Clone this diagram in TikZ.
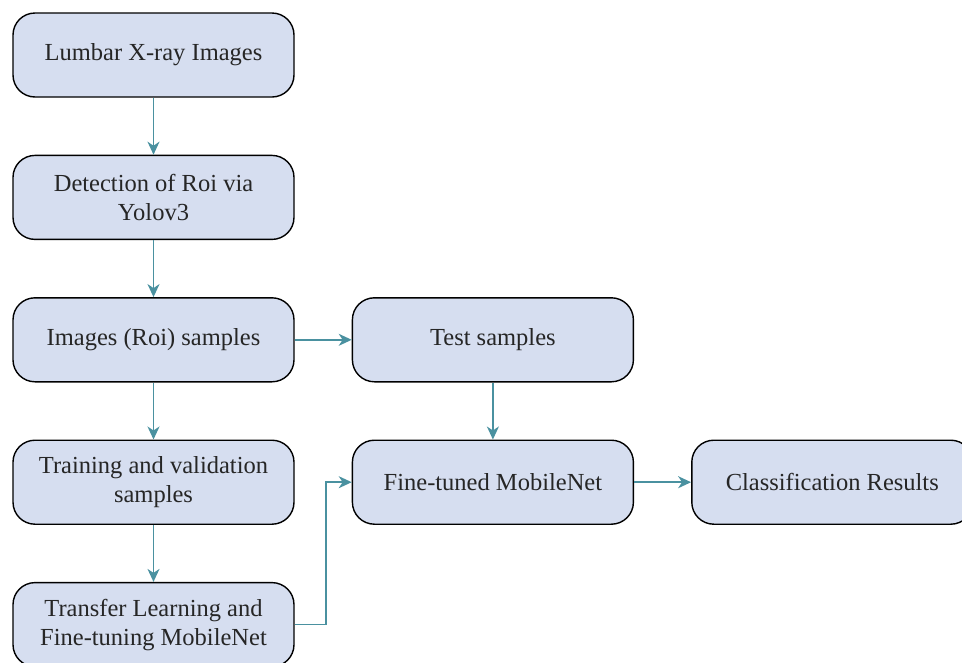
\documentclass[tikz,border=0pt]{standalone}
\usepackage{fontspec}
\setmainfont{Liberation Serif}
\usetikzlibrary{positioning,arrows,arrows.meta}

\definecolor{boxfill}{RGB}{214,222,240}
\definecolor{linkcol}{RGB}{74,145,160}

\begin{document}
\begin{tikzpicture}[node distance=57pt,
		box/.style={draw=black, line width=1.4pt, fill=boxfill, rounded corners=22pt,
			minimum width=281pt, minimum height=84pt, inner sep=2pt, align=center,
			font=\fontsize{24.5}{29}\selectfont, text=black!85},
		link/.style={draw=linkcol, line width=1.6pt, -{Stealth[length=13pt,width=12pt,inset=4pt]}}]
	\useasboundingbox (0,0) rectangle (962pt,-662pt);

	\node (lumbar)   [box] at (153.5pt,-55pt)   {Lumbar X-ray Images};
	\node (detect)   [box, below=of lumbar]   {Detection of Roi via\\Yolov3};
	\node (roi)      [box, below=of detect]   {Images (Roi) samples};
	\node (train)    [box, below=of roi]      {Training and validation\\samples};
	\node (transfer) [box, below=of train]    {Transfer Learning and\\Fine-tuning MobileNet};

	\node (test)     [box, right=of roi]      {Test samples};
	\node (finetune) [box, right=of train]    {Fine-tuned MobileNet};
	\node (result)   [box, right=of finetune] {Classification Results};

	\draw[link] (lumbar) -- (detect);
	\draw[link] (detect) -- (roi);
	\draw[link] (roi) -- (train);
	\draw[link] (train) -- (transfer);
	\draw[link] (roi) -- (test);
	\draw[link] (test) -- (finetune);
	\draw[link] (transfer.east) -- ++(31pt,0) |- (finetune.west);
	\draw[link] (finetune) -- (result);
\end{tikzpicture}
\end{document}
